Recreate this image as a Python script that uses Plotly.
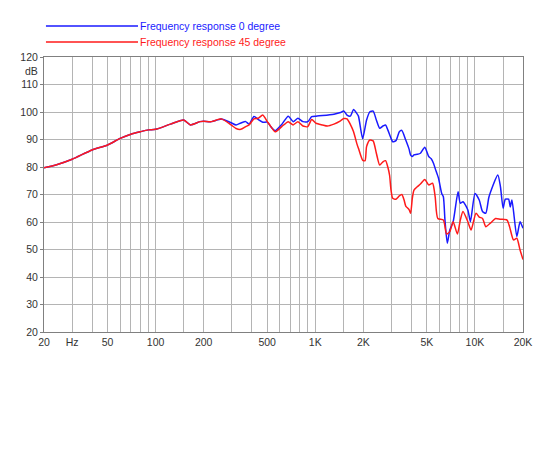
import plotly.graph_objects as go
import numpy as np

# ---- data ----
freq_45 = [20, 24, 30, 40, 50, 60, 70, 80, 90, 100, 124, 150, 165, 190, 200, 224, 258, 297,
           319, 342, 367, 385, 413, 439, 469, 501, 530, 561, 617, 677, 727, 779, 837, 898, 950,
           1011, 1110, 1190, 1309, 1439, 1508, 1580, 1658, 1737, 1819, 1864, 1980, 2050, 2096,
           2198, 2304, 2413, 2532, 2654, 2756, 2846, 2920, 2982, 3055, 3202, 3360, 3485, 3600,
           3687, 3868, 3956, 4052, 4151, 4350, 4558, 4850, 5133, 5430, 5634, 5852, 6342, 6646,
           6962, 7305, 7764, 8098, 8414, 9028, 9460, 10154, 10638, 11158, 11692, 12549, 13466,
           14450, 15886, 16482, 17440, 18296, 19170, 20000]
spl_45 = [79.7, 80.8, 82.8, 86.2, 88.0, 90.4, 91.9, 92.8, 93.5, 93.7, 95.6, 97.1, 95.3, 96.5, 96.6, 96.5, 97.5, 95.3,
          94.0, 93.7, 94.7, 95.3, 97.5, 97.7, 98.9, 96.5, 94.5, 92.8, 94.7, 96.5, 95.3, 96.5, 94.9, 94.7, 97.3,
          95.9, 95.3, 94.9, 95.6, 96.8, 97.6, 97.5, 95.5, 92.8, 88.6, 86.8, 82.5, 82.3, 87.4,
          89.8, 89.5, 85.0, 80.7, 81.9, 82.3, 80.0, 77.0, 71.6, 68.6, 68.3, 69.5, 70.0, 68.0,
          65.8, 64.5, 63.2, 68.5, 71.6, 72.8, 73.8, 75.5, 73.5, 74.1, 69.2, 61.3, 60.7, 55.6,
          56.5, 60.1, 55.6, 60.7, 63.8, 60.1, 57.1, 63.2, 61.8, 61.3, 58.3, 59.7, 61.3,
          61.0, 60.7, 58.3, 53.5, 54.1, 49.8, 46.4]

freq_0 = [20, 24, 30, 40, 50, 60, 70, 80, 90, 100, 124, 150, 165, 190, 200, 224, 258, 297,
          319, 342, 367, 385, 413, 439, 469, 501, 530, 561, 617, 677, 727, 779, 837, 898, 950,
          1011, 1110, 1309, 1439, 1508, 1580, 1658, 1737, 1819, 1864, 1980, 2096, 2198, 2304,
          2413, 2532, 2654, 2756, 2846, 2982, 3055, 3202, 3360, 3485, 3687, 3868, 3956, 4052,
          4151, 4350, 4558, 4850, 5133, 5324, 5508, 5634, 5910, 6192, 6342, 6490, 6711, 6962,
          7305, 7840, 8098, 8414, 9028, 9368, 10012, 10638, 11158, 11692, 12250, 13910, 14450,
          15012, 15508, 16246, 16642, 17050, 18296, 19170, 20000]
spl_0 = [79.7, 80.8, 82.8, 86.2, 88.0, 90.4, 91.9, 92.8, 93.5, 93.7, 95.6, 97.1, 95.3, 96.5, 96.6, 96.5, 97.5, 96.1,
         95.3, 96.0, 96.5, 95.6, 98.4, 97.3, 96.3, 96.3, 94.5, 93.2, 95.5, 98.5, 96.5, 97.7, 96.5, 96.5, 98.3,
         98.5, 98.7, 99.2, 99.8, 100.4, 98.9, 98.5, 100.9, 99.5, 98.5, 90.3, 97.1, 100.1, 100.3,
         97.1, 94.1, 94.9, 95.3, 93.5, 90.4, 89.2, 89.6, 92.8, 93.3, 89.8, 86.5, 84.3, 83.8,
         84.4, 84.6, 85.0, 87.2, 83.8, 83.0, 81.3, 79.5, 76.0, 70.4, 69.2, 60.7, 52.3, 57.1,
         60.1, 71.0, 66.8, 67.4, 64.4, 60.1, 70.4, 68.0, 63.8, 63.2, 69.2, 77.1, 72.8,
         65.0, 68.3, 68.3, 65.5, 68.0, 54.7, 60.1, 57.7]

grid_x = [20, 30, 40, 50, 60, 70, 80, 90, 100, 150, 200, 300, 400, 500, 600, 700, 800, 900,
          1000, 1500, 2000, 3000, 4000, 5000, 6000, 7000, 8000, 9000, 10000, 15000, 20000]
label_x = {20: "20", 30: "Hz", 50: "50", 100: "100", 200: "200", 500: "500", 1000: "1K",
           2000: "2K", 5000: "5K", 10000: "10K", 20000: "20K"}
y_ticks = [20, 30, 40, 50, 60, 70, 80, 90, 100, 110, 120]

series_names = ["Frequency response 0 degree", "Frequency response 45 degree"]
series_colors = ["#1a1aff", "#ff1a1a"]

FONT = "Liberation Sans, Arial, sans-serif"

# page offset (browser body margin) compensation
OFF = 8
L, T = 34 - OFF, 57 - OFF
R = 550 - (523 - OFF)
B = 450 - (332 - OFF)

fig = go.Figure()
fig.add_trace(go.Scatter(x=freq_0, y=spl_0, mode="lines", name=series_names[0],
                         line=dict(color=series_colors[0], width=1.5, shape="spline", smoothing=0.6),
                         showlegend=False))
fig.add_trace(go.Scatter(x=freq_45, y=spl_45, mode="lines", name=series_names[1],
                         line=dict(color=series_colors[1], width=1.5, shape="spline", smoothing=0.6),
                         showlegend=False))

fig.update_layout(
    width=550, height=450,
    margin=dict(l=L, r=R, t=T, b=B),
    paper_bgcolor="white", plot_bgcolor="white",
    font=dict(family=FONT, size=11, color="#333333"),
    xaxis=dict(type="log", range=[np.log10(20), np.log10(20000)],
               tickmode="array", tickvals=grid_x,
               ticktext=[label_x.get(v, "") for v in grid_x],
               showgrid=True, gridcolor="#b4b4b4", gridwidth=1,
               showline=True, linecolor="#808080", linewidth=1, mirror=True,
               ticks="", tickfont=dict(size=10.5, color="#333333"), zeroline=False),
    yaxis=dict(range=[20, 120], tickmode="array", tickvals=y_ticks,
               showgrid=True, gridcolor="#b4b4b4", gridwidth=1,
               showline=True, linecolor="#808080", linewidth=1, mirror=True,
               ticks="outside", ticklen=3, tickcolor="#808080",
               tickfont=dict(size=10.5, color="#333333"), zeroline=False),
)

# "dB" unit label under 120
fig.add_annotation(x=0, xref="paper", xanchor="right", xshift=-4, y=115, yref="y",
                   text="dB", showarrow=False, font=dict(size=10.5, color="#333333"))

# custom legend at top
legend_rows = [26, 42]  # pixel rows in the page
plot_h = 332 - 57
plot_w = 523 - 34
for i, (name, col) in enumerate(zip(series_names, series_colors)):
    yp = 1 + (57 - legend_rows[i]) / plot_h
    x0 = (36 - 34) / plot_w
    x1 = (130 - 34) / plot_w
    fig.add_shape(type="line", xref="paper", yref="paper", x0=x0, x1=x1, y0=yp, y1=yp,
                  line=dict(color=col, width=1.5))
    fig.add_annotation(x=x1, xref="paper", xanchor="left", xshift=0, y=yp, yref="paper",
                       yanchor="middle", text=name, showarrow=False,
                       font=dict(size=10.5, color=col))

fig.write_html("out.html")
